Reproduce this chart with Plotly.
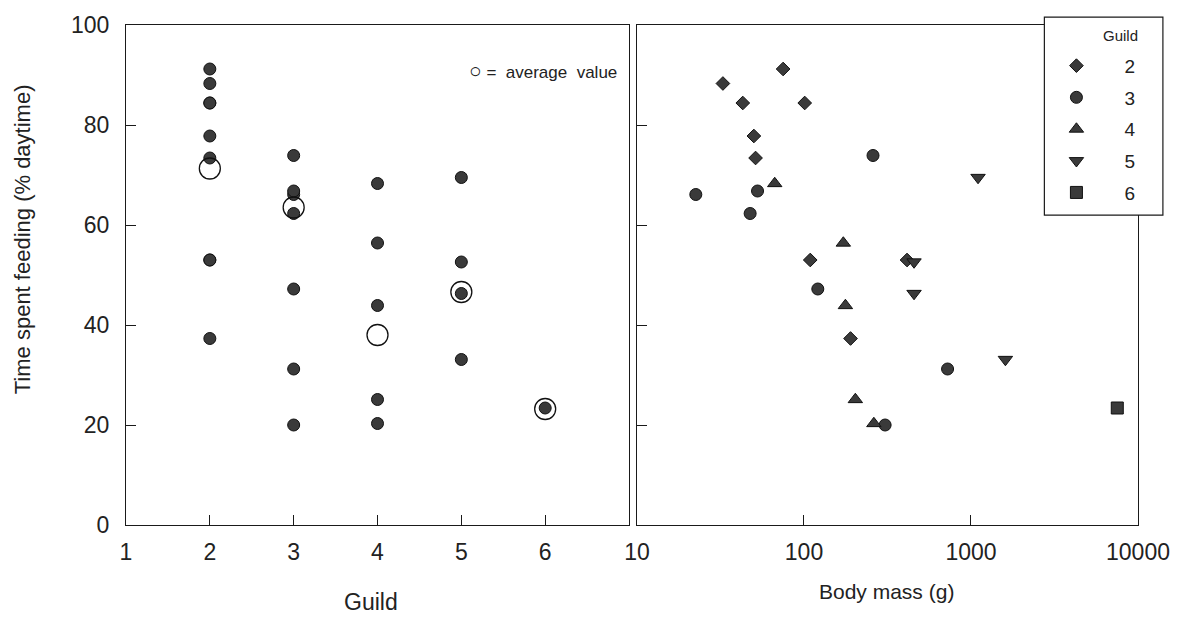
import plotly.graph_objects as go

# Species records: feeding guild, body mass (g) and time spent feeding (% daytime)
guild2_mass = [75, 32.7, 43, 101, 50.1, 51.3, 109, 414, 190]
guild2_feed = [91.2, 88.3, 84.4, 84.4, 77.8, 73.4, 53.0, 53.0, 37.3]

guild3_mass = [259, 22.5, 52.7, 47.6, 121, 724, 306]
guild3_feed = [73.9, 66.1, 66.8, 62.3, 47.2, 31.2, 20.0]

guild4_mass = [66.8, 172, 177, 203, 262]
guild4_feed = [68.3, 56.4, 43.9, 25.1, 20.3]

guild5_mass = [1102, 456, 456, 1607]
guild5_feed = [69.5, 52.6, 46.3, 33.1]

guild6_mass = [7516]
guild6_feed = [23.4]

# Average feeding time per guild
avg_guild = [2, 3, 4, 5, 6]
avg_feed = [71.3, 63.5, 38.0, 46.6, 23.2]

guilds = ["2", "3", "4", "5", "6"]
masses = [guild2_mass, guild3_mass, guild4_mass, guild5_mass, guild6_mass]
feeds = [guild2_feed, guild3_feed, guild4_feed, guild5_feed, guild6_feed]
symbols = ["diamond", "circle", "triangle-up", "triangle-down", "square"]
sizes = [10.5, 12, 12.5, 12.5, 12]

y_ticks = [0, 20, 40, 60, 80, 100]
guild_ticks = [1, 2, 3, 4, 5, 6]
mass_ticks = [10, 100, 1000, 10000]

FONT = "Liberation Sans"
FILL = "#3a3a3a"
EDGE = "#111111"
AXIS = "#1a1a1a"
TEXT = "#222222"

# Plot area in pixels: x 126..1142, y 20..525
L, R, T, B = 126, 1142, 20, 525


def px(x):
    return (x - L) / (R - L)


def py(y):
    return (B - y) / (B - T)


fig = go.Figure()

# Left panel: feeding time by guild
for g, f in zip(guilds, feeds):
    fig.add_trace(go.Scatter(
        x=[int(g)] * len(f), y=f, mode="markers", showlegend=False,
        marker=dict(symbol="circle", size=12, color=FILL,
                    line=dict(color=EDGE, width=1)),
        xaxis="x", yaxis="y"))

fig.add_trace(go.Scatter(
    x=avg_guild, y=avg_feed, mode="markers", showlegend=False,
    marker=dict(symbol="circle-open", size=21, color=EDGE,
                line=dict(color=EDGE, width=1.3)),
    xaxis="x", yaxis="y"))

# Right panel: feeding time against body mass
for g, m, f, s, sz in zip(guilds, masses, feeds, symbols, sizes):
    fig.add_trace(go.Scatter(
        x=m, y=f, mode="markers", name=g, legendgroup=g,
        marker=dict(symbol=s, size=sz, color=FILL,
                    line=dict(color=EDGE, width=1)),
        xaxis="x2", yaxis="y2"))

axis_common = dict(showline=True, linecolor=AXIS, linewidth=1.3, mirror=True,
                   ticks="inside", ticklen=10, tickwidth=1.2, tickcolor=AXIS,
                   showgrid=False, zeroline=False,
                   tickfont=dict(family=FONT, size=23, color=TEXT))

fig.update_layout(
    width=1182, height=621,
    paper_bgcolor="white", plot_bgcolor="white",
    margin=dict(l=L, r=1182 - R, t=T, b=621 - B),
    xaxis=dict(domain=[0, px(631)], range=[1, 7], tickvals=guild_ticks,
               ticktext=[str(t) for t in guild_ticks], ticklabelstandoff=6,
               **axis_common),
    yaxis=dict(range=[0, 100], tickvals=y_ticks, anchor="x",
               ticklabelstandoff=11, **axis_common),
    xaxis2=dict(domain=[px(639), 1], type="log", range=[1, 4], tickvals=mass_ticks,
                ticktext=[str(t) for t in mass_ticks], anchor="y2",
                ticklabelstandoff=6, **axis_common),
    yaxis2=dict(range=[0, 100], tickvals=[20, 40, 60, 80], anchor="x2",
                showticklabels=False, **axis_common),
    legend=dict(x=px(1032), y=py(42), xanchor="left", yanchor="top",
                bgcolor="rgba(0,0,0,0)", borderwidth=0,
                font=dict(family=FONT, size=19, color=TEXT),
                itemwidth=86, traceorder="grouped", tracegroupgap=4),
    showlegend=True,
)

# Legend frame drawn over the top-right corner of the right panel
fig.add_shape(type="rect", xref="paper", yref="paper",
              x0=px(1048), x1=px(1167), y0=py(212), y1=py(12),
              fillcolor="white", line=dict(color=AXIS, width=1.2), layer="above")

annotations = [
    dict(text="Guild", xref="paper", yref="paper", x=px(1124), y=py(31),
         xanchor="center", yanchor="middle", showarrow=False,
         font=dict(family=FONT, size=15, color=TEXT)),
    dict(text="Time spent feeding (% daytime)", textangle=-90,
         xref="paper", yref="paper", x=px(22), y=py(236),
         xanchor="center", yanchor="middle", showarrow=False,
         font=dict(family=FONT, size=22, color=TEXT)),
    dict(text="Guild", xref="paper", yref="paper", x=px(372), y=py(603),
         xanchor="center", yanchor="middle", showarrow=False,
         font=dict(family=FONT, size=23, color=TEXT)),
    dict(text="Body mass (g)", xref="paper", yref="paper", x=px(890), y=py(592),
         xanchor="center", yanchor="middle", showarrow=False,
         font=dict(family=FONT, size=21, color=TEXT)),
    dict(text="<span style='font-size:21px'>\u25cb</span>\u00a0=\u00a0\u00a0average\u00a0\u00a0value",
         xref="x", yref="y",
         x=6.88, y=91.0, xanchor="right", yanchor="middle", showarrow=False,
         font=dict(family=FONT, size=17, color=TEXT)),
]
fig.update_layout(annotations=annotations)

fig.write_html("out.html")
